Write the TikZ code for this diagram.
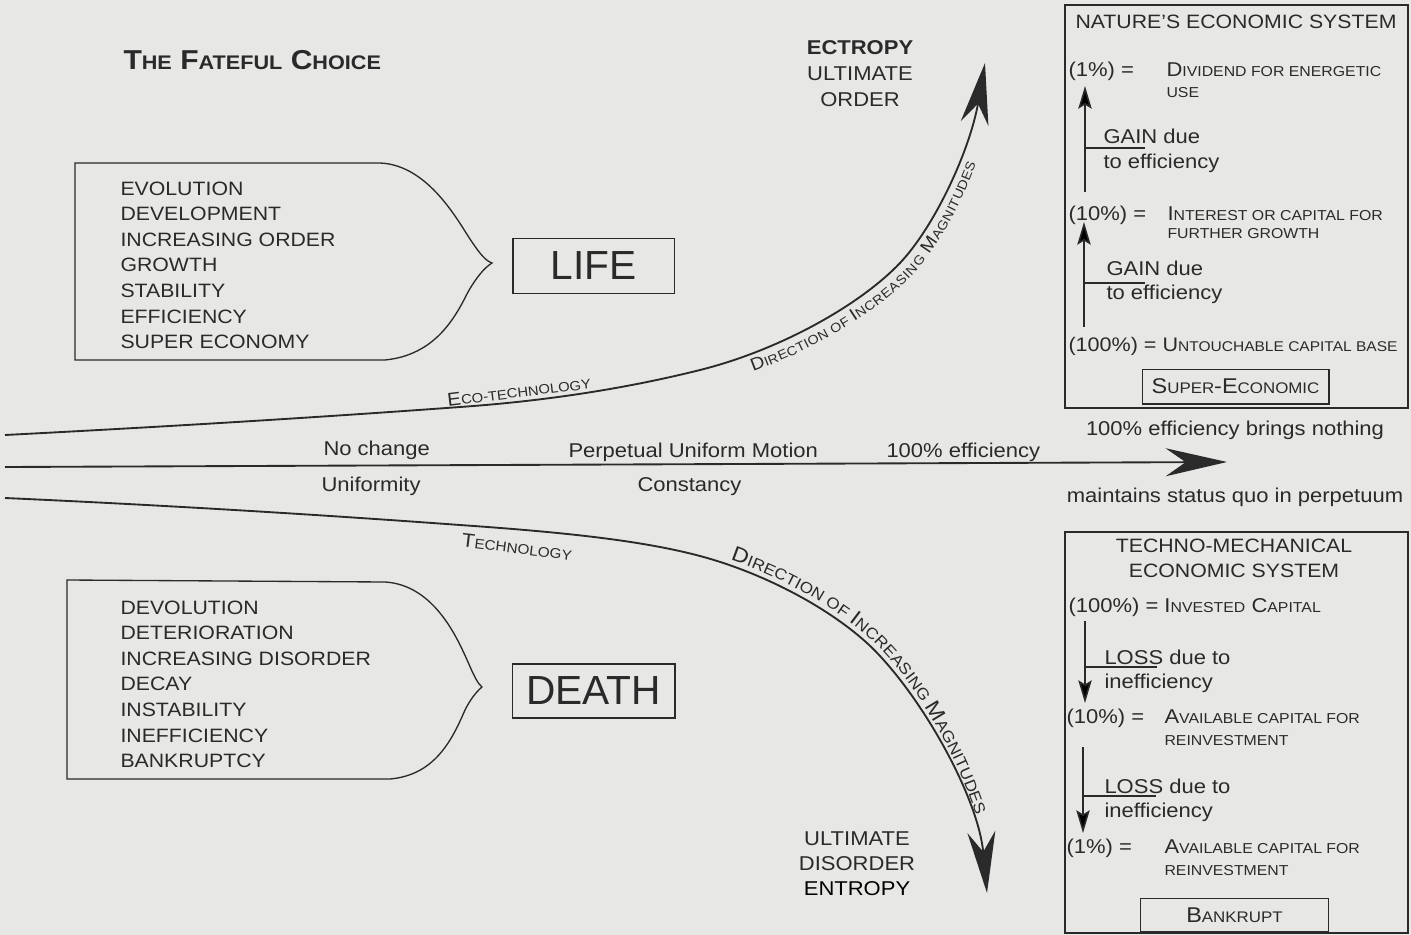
\documentclass[tikz,border=0pt]{standalone}
\usepackage{fontspec}
\setmainfont{Liberation Sans}[FakeStretch=1.1]
\newfontfamily\bigletters{Liberation Sans}
\usetikzlibrary{arrows.meta,decorations.text}

\definecolor{paper}{RGB}{231,231,229}
\definecolor{ink}{RGB}{42,42,42}

\makeatletter
\newcommand{\lc}[1]{{\fontsize{\fpeval{0.72*\f@size}}{\f@baselineskip}\selectfont #1}}
\makeatother
\newcommand{\upD}{\fontsize{13.2}{13.2}\selectfont}
\newcommand{\upd}{\fontsize{9.7}{9.7}\selectfont}
\newcommand{\dnD}{\fontsize{15.8}{15.8}\selectfont}
\newcommand{\dnd}{\fontsize{11.7}{11.7}\selectfont}

\tikzset{every picture/.style={line width=0.75pt}}
\tikzset{
  lbl/.style={inner sep=0.75pt, text=ink, font=\fontsize{15}{18}\selectfont},
  boxline/.style={draw=ink, line width=1pt},
  bigtip/.style={-{Stealth[length=46pt,width=21pt,inset=15pt]}},
  smalltip/.style={-{Stealth[length=17pt,width=10pt,inset=3pt]}},
  trend/.style={draw=ink, line width=1.4pt},
  stem/.style={draw=ink, line width=1.2pt},
}

\begin{document}
\begin{tikzpicture}[x=0.75pt,y=0.75pt,yscale=-1,xscale=1]
%paper
\fill [paper] (0,0) rectangle (1411,935) ;

% Text Node
\draw (122,69) node (title) [lbl, anchor=base west, font=\fontsize{20.5}{24}\selectfont\bfseries] {T\lc{HE} F\lc{ATEFUL} C\lc{HOICE}};

%Shape: Tag
\draw [boxline] (75,163) -- (380,163) .. controls (430,165) and (460,225) .. (472,242) .. controls (480,254) and (486,261) .. (492,263) .. controls (484,268) and (476,278) .. (468,292) .. controls (455,318) and (435,355) .. (385,360) -- (75,360) -- cycle ;
%Shape: Tag
\draw [boxline] (67,580) -- (385,582) .. controls (435,585) and (458,640) .. (468,662) .. controls (474,676) and (478,684) .. (482,687) .. controls (476,692) and (470,700) .. (465,710) .. controls (452,740) and (435,775) .. (390,779) -- (67,779) -- cycle ;

% Text Node
\draw (120,181) node (lifelist) [lbl, anchor=north west, inner sep=0pt, align=left, font=\fontsize{14.5}{19.2}\selectfont] {EVOLUTION\\DEVELOPMENT\\INCREASING ORDER\\GROWTH\\STABILITY\\EFFICIENCY\\SUPER ECONOMY};
% Text Node
\draw (120,600) node (deathlist) [lbl, anchor=north west, inner sep=0pt, align=left, font=\fontsize{14.5}{19.2}\selectfont] {DEVOLUTION\\DETERIORATION\\INCREASING DISORDER\\DECAY\\INSTABILITY\\INEFFICIENCY\\BANKRUPTCY};

% Text Node
\draw (593.5,266) node (life) [lbl, boxline, inner sep=0pt, minimum width=121pt, minimum height=41pt, font=\bigletters\fontsize{30.5}{30}\selectfont] {LIFE};
% Text Node
\draw (593.5,691) node (death) [lbl, boxline, inner sep=0pt, minimum width=122pt, minimum height=40.5pt, font=\bigletters\fontsize{30.5}{30}\selectfont] {DEATH};

%Curves
\coordinate (ecoS) at (5,435);
\coordinate (ecoE) at (985,63);
\coordinate (flatS) at (5,467);
\coordinate (flatE) at (1227,462);
\coordinate (techS) at (5,498);
\coordinate (techE) at (987,893);

\draw [trend, bigtip] (ecoS) .. controls (160,427) and (310,418) .. (460,407) .. controls (560,400) and (640,385) .. (700,370) .. controls (780,350) and (860,305) .. (900,263) .. controls (935,226) and (970,150) .. (ecoE) ;
\draw [trend, bigtip] (flatS) -- (flatE) ;
\draw [trend, bigtip] (techS) .. controls (160,505) and (310,514) .. (460,525) .. controls (560,532) and (640,540) .. (700,556) .. controls (760,572) and (825,605) .. (867,643) .. controls (918,690) and (978,795) .. (techE) ;

\path [decorate, decoration={text along path, text color=ink, raise=-13pt, text align={left indent=561pt}, text={|\upD|D|\upd|IRECTION OF |\upD|I|\upd|NCREASING |\upD|M|\upd|AGNITUDES}}] (ecoS) .. controls (160,427) and (310,418) .. (460,407) .. controls (560,400) and (640,385) .. (700,370) .. controls (780,350) and (860,305) .. (900,263) .. controls (935,226) and (970,150) .. (ecoE) ;
\path [decorate, decoration={text along path, text color=ink, raise=4pt, text align={left indent=546pt}, text={|\dnD|D|\dnd|IRECTION OF |\dnD|I|\dnd|NCREASING |\dnD|M|\dnd|AGNITUDES}}] (techS) .. controls (160,505) and (310,514) .. (460,525) .. controls (560,532) and (640,540) .. (700,556) .. controls (760,572) and (825,605) .. (867,643) .. controls (918,690) and (978,795) .. (techE) ;

% Text Node
\draw (519,391) node (ecotech) [lbl, rotate=7, font=\fontsize{14}{16}\selectfont] {E\lc{CO-TECHNOLOGY}};
% Text Node
\draw (517,547) node (tech) [lbl, rotate=-7, font=\fontsize{14.5}{16}\selectfont] {T\lc{ECHNOLOGY}};

% Text Node
\draw (322,455) node (nochange) [lbl, anchor=base west] {No change};
\draw (320,491) node (uniform) [lbl, anchor=base west] {Uniformity};
\draw (567,457) node (motion) [lbl, anchor=base west] {Perpetual Uniform Motion};
\draw (636,491) node (constancy) [lbl, anchor=base west] {Constancy};
\draw (885,457) node (eff) [lbl, anchor=base west] {100\% efficiency};

% Text Node
\draw (860,54) node (ectropy) [lbl, anchor=base, font=\fontsize{15}{18}\selectfont\bfseries] {ECTROPY};
\draw (860,80) node (ultup) [lbl, anchor=base] {ULTIMATE};
\draw (860,106) node (order) [lbl, anchor=base] {ORDER};
\draw (857,845) node (ultdn) [lbl, anchor=base] {ULTIMATE};
\draw (857,870) node (disorder) [lbl, anchor=base] {DISORDER};
\draw (857,895) node (entropy) [lbl, anchor=base, text=black] {ENTROPY};

% Text Node
\draw (1235,435) node (nothing) [lbl, anchor=base] {100\% efficiency brings nothing};
\draw (1235,502) node (quo) [lbl, anchor=base] {maintains status quo in perpetuum};

%Shape: Rectangle
\draw [boxline] (1065,5) -- (1408,5) -- (1408,408) -- (1065,408) -- cycle ;
%Shape: Rectangle
\draw [boxline] (1065,532) -- (1408,532) -- (1408,933) -- (1065,933) -- cycle ;

% Text Node
\draw (1236,28) node (nature) [lbl, anchor=base, font=\fontsize{14.5}{18}\selectfont] {NATURE'S ECONOMIC SYSTEM};
\draw (1067,76) node (pone) [lbl, anchor=base west] {(1\%) =};
\draw (1165,76) node (dividend) [lbl, anchor=base west] {D\lc{IVIDEND FOR ENERGETIC}};
\draw (1165,97) node (use) [lbl, anchor=base west] {\lc{USE}};
\draw (1102,143) node (gaina) [lbl, anchor=base west] {GAIN due};
\draw (1102,168) node (gainb) [lbl, anchor=base west] {to efficiency};
\draw (1067,220) node (pten) [lbl, anchor=base west] {(10\%) =};
\draw (1166,220) node (interest) [lbl, anchor=base west] {I\lc{NTEREST OR CAPITAL FOR}};
\draw (1166,238) node (growth) [lbl, anchor=base west] {\lc{FURTHER GROWTH}};
\draw (1105,275) node (gainc) [lbl, anchor=base west] {GAIN due};
\draw (1105,299) node (gaind) [lbl, anchor=base west] {to efficiency};
\draw (1067,351.5) node (phundred) [lbl, anchor=base west, font=\fontsize{14.7}{18}\selectfont] {(100\%) = U\lc{NTOUCHABLE CAPITAL BASE}};
\draw (1235.5,386.5) node (super) [lbl, boxline, minimum width=140pt, minimum height=26pt, font=\fontsize{16}{18}\selectfont] {S\lc{UPER}-E\lc{CONOMIC}};

%Arrows up
\coordinate (upAs) at (1085,192);
\coordinate (upAe) at (1085,86);
\coordinate (upBs) at (1084,327);
\coordinate (upBe) at (1084,222);
\draw [stem, smalltip] (upAs) -- (upAe) ;
\draw [stem, smalltip] (upBs) -- (upBe) ;
\draw [stem] (1085,148) -- (1145,148) ;
\draw [stem] (1084,283) -- (1145,283) ;

% Text Node
\draw (1234,552) node (techno) [lbl, anchor=base, font=\fontsize{14.5}{18}\selectfont] {TECHNO-MECHANICAL};
\draw (1234,577) node (econ) [lbl, anchor=base, font=\fontsize{14.5}{18}\selectfont] {ECONOMIC SYSTEM};
\draw (1067,612) node (invest) [lbl, anchor=base west] {(100\%) = I\lc{NVESTED} C\lc{APITAL}};
\draw (1103,664) node (lossa) [lbl, anchor=base west] {LOSS due to};
\draw (1103,688) node (lossb) [lbl, anchor=base west] {inefficiency};
\draw (1065,723) node (qten) [lbl, anchor=base west] {(10\%) =};
\draw (1163,723) node (availa) [lbl, anchor=base west] {A\lc{VAILABLE CAPITAL FOR}};
\draw (1163,745) node (reinva) [lbl, anchor=base west] {\lc{REINVESTMENT}};
\draw (1103,793) node (lossc) [lbl, anchor=base west] {LOSS due to};
\draw (1103,817) node (lossd) [lbl, anchor=base west] {inefficiency};
\draw (1065,853) node (qone) [lbl, anchor=base west] {(1\%) =};
\draw (1163,853) node (availb) [lbl, anchor=base west] {A\lc{VAILABLE CAPITAL FOR}};
\draw (1163,875) node (reinvb) [lbl, anchor=base west] {\lc{REINVESTMENT}};
\draw (1234.5,915) node (bankrupt) [lbl, boxline, minimum width=141pt, minimum height=25pt, font=\fontsize{16}{18}\selectfont] {B\lc{ANKRUPT}};

%Arrows down
\coordinate (dnAs) at (1085,621);
\coordinate (dnAe) at (1085,703);
\coordinate (dnBs) at (1083,747);
\coordinate (dnBe) at (1083,833);
\draw [stem, smalltip] (dnAs) -- (dnAe) ;
\draw [stem, smalltip] (dnBs) -- (dnBe) ;
\draw [stem] (1085,667) -- (1157,667) ;
\draw [stem] (1083,796) -- (1156,796) ;
\end{tikzpicture}
\end{document}
